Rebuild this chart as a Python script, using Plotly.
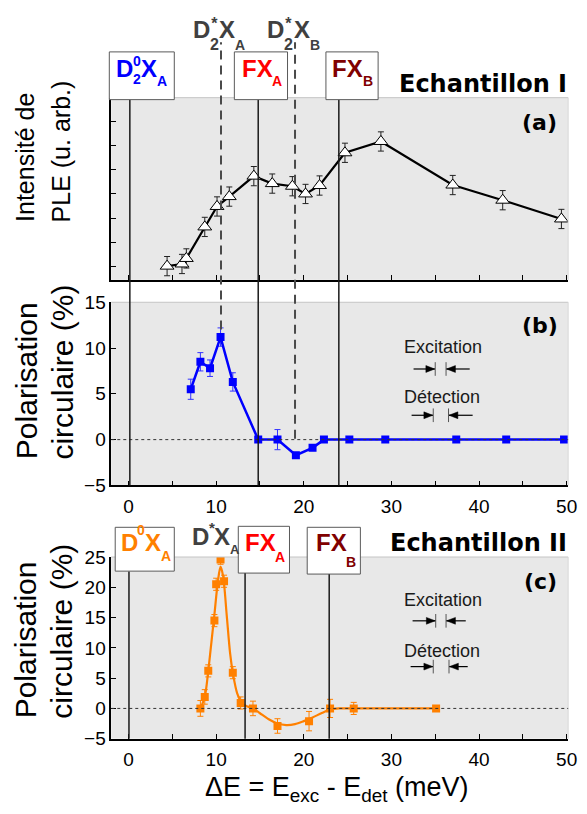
import plotly.graph_objects as go

W, H = 587, 814

# ---------------- data ----------------
ple_x = [4.4, 6.1, 6.6, 8.7, 10.1, 11.5, 14.3, 16.4, 18.7, 20.2, 21.8, 24.7, 28.8, 37.0, 42.7, 49.4]
ple_y = [1.0, 1.09, 1.32, 2.63, 3.48, 3.89, 4.74, 4.43, 4.32, 4.0, 4.35, 5.71, 6.18, 4.37, 3.74, 2.96]
ple_err = [0.4] * 16

polI_x = [7.1, 8.2, 9.3, 10.5, 11.9, 14.8, 17.0, 19.1, 21.0, 22.3, 25.2, 29.3, 37.4, 43.1, 49.7]
polI_y = [5.5, 8.5, 7.8, 11.2, 6.3, 0.0, 0.0, -1.7, -0.9, 0.0, 0.0, 0.0, 0.0, 0.0, 0.0]
polI_err = [1.1, 1.0, 0.9, 1.0, 1.0, 0.0, 1.1, 0.3, 0.3, 0.0, 0.0, 0.0, 0.0, 0.0, 0.0]

polII_x = [8.2, 8.7, 9.1, 9.8, 10.0, 10.5, 10.9, 11.9, 12.8, 14.2, 17.0, 20.6, 23.0, 25.7, 35.1]
polII_y = [0.0, 1.9, 6.2, 14.5, 20.5, 24.6, 21.0, 5.9, 0.9, 0.0, -2.9, -2.1, 0.0, 0.0, 0.0]
polII_err = [1.3, 1.2, 1.0, 1.0, 1.0, 0.8, 1.0, 1.0, 1.0, 1.2, 1.2, 1.6, 1.5, 1.0, 0.4]

fit_x = [8.2, 8.7, 9.1, 9.5, 9.8, 10.2, 10.5, 10.8, 11.2, 11.6, 11.9, 12.4, 13.0, 13.6, 14.2, 15.0,
         16.0, 17.0, 18.0, 19.0, 20.0, 21.0, 22.0, 23.0, 24.0, 25.7, 35.1]
fit_y = [0.0, 1.9, 6.2, 11.5, 15.5, 21.0, 23.4, 21.8, 15.5, 9.0, 5.9, 2.5, 0.8, 0.3, 0.0, -0.8,
         -1.8, -2.5, -2.75, -2.6, -2.1, -1.5, -0.8, -0.2, 0.0, 0.0, 0.0]

x_major = [0, 10, 20, 30, 40, 50]
x_minor = [5, 15, 25, 35, 45]
yb_ticks = [-5, 0, 5, 10, 15]
yc_ticks = [-5, 0, 5, 10, 15, 20, 25]
ya_ticks = [1, 2, 3, 4, 5, 6, 7]

# reference energies (meV)
D0_I, FXA_I, FXB_I, DSA_I, DSB_I = 0.15, 14.8, 24.0, 10.55, 19.0
D0_II, FXA_II, FXB_II = 0.05, 13.3, 22.9

# ---------------- helpers ----------------
def px(x):
    return x / W

def py(y):
    return 1 - y / H

XR = [-1.97, 50.17]
XDOM = [px(113), px(577)]

BG = "#e8e8e8"
FONT = "Liberation Sans, Arial, sans-serif"
BOLDW = "DejaVu Sans, Liberation Sans, Arial"

fig = go.Figure()

# Panel (a)
fig.add_trace(go.Scatter(
    x=ple_x, y=ple_y, mode="lines+markers", xaxis="x", yaxis="y",
    line=dict(color="black", width=2.2),
    marker=dict(symbol="triangle-up", size=12, color="white", line=dict(color="black", width=1)),
    error_y=dict(type="data", array=ple_err, color="#222", thickness=1, width=3),
    showlegend=False))

# Panel (b)
fig.add_trace(go.Scatter(
    x=polI_x, y=polI_y, mode="lines+markers", xaxis="x2", yaxis="y2",
    line=dict(color="#0000ff", width=2.5),
    marker=dict(symbol="square", size=8, color="#0000ff"),
    error_y=dict(type="data", array=polI_err, color="#3333ff", thickness=1, width=3),
    showlegend=False))

# Panel (c)
fig.add_trace(go.Scatter(
    x=fit_x, y=fit_y, mode="lines", xaxis="x3", yaxis="y3",
    line=dict(color="#ff8000", width=2.2, shape="spline", smoothing=0.8),
    showlegend=False, hoverinfo="skip"))
fig.add_trace(go.Scatter(
    x=polII_x, y=polII_y, mode="markers", xaxis="x3", yaxis="y3",
    marker=dict(symbol="square", size=8, color="#ff8000"),
    error_y=dict(type="data", array=polII_err, color="#ff8000", thickness=1, width=3),
    showlegend=False))

axcommon = dict(showline=True, linecolor="black", linewidth=1.5, ticks="inside",
                ticklen=5, tickcolor="black", showgrid=False, zeroline=False,
                tickfont=dict(family=FONT, size=19, color="black"))
xminor = dict(tickvals=x_minor, ticks="inside", ticklen=5, tickcolor="black", showgrid=False)

fig.update_layout(
    width=W, height=H, margin=dict(l=0, r=0, t=0, b=0),
    paper_bgcolor="white", plot_bgcolor=BG,
    xaxis=dict(domain=XDOM, range=XR, anchor="y", tickvals=x_major, minor=xminor,
               showticklabels=False, **axcommon),
    yaxis=dict(domain=[py(277), py(90)], range=[0.43, 8.0], anchor="x", tickvals=ya_ticks,
               showticklabels=False, **axcommon),
    xaxis2=dict(domain=XDOM, range=XR, anchor="y2", tickvals=x_major, minor=xminor,
                ticklabelstandoff=3, **axcommon),
    yaxis2=dict(domain=[py(488), py(300)], range=[-5, 15], anchor="x2", tickvals=yb_ticks, **axcommon),
    xaxis3=dict(domain=XDOM, range=XR, anchor="y3", tickvals=x_major, minor=xminor,
                ticklabelstandoff=3, **axcommon),
    yaxis3=dict(domain=[py(748), py(561.5)], range=[-5, 25], anchor="x3", tickvals=yc_ticks, **axcommon),
)

shapes = []
annots = []

# light top/right borders of panels
for top, bot in [(90, 277), (300, 488), (561.5, 748)]:
    shapes.append(dict(type="line", xref="paper", yref="paper", x0=px(113), x1=px(577), y0=py(top), y1=py(top),
                       line=dict(color="#c4c4c4", width=1)))
    shapes.append(dict(type="line", xref="paper", yref="paper", x0=px(577), x1=px(577), y0=py(top), y1=py(bot),
                       line=dict(color="#d8d8d8", width=1)))

# dotted zero lines
for yr in ["y2", "y3"]:
    shapes.append(dict(type="line", xref="paper", yref=yr, x0=px(113), x1=px(577), y0=0, y1=0,
                       line=dict(color="#333", width=1, dash="dot")))

def vline(xv, ytop, ybot, dash=None, color="#1a1a1a", width=1.5):
    ln = dict(color=color, width=width)
    if dash:
        ln["dash"] = dash
    shapes.append(dict(type="line", xref="x", yref="paper", x0=xv, x1=xv, y0=py(ybot), y1=py(ytop), line=ln))

vline(D0_I, 92, 488)
vline(FXA_I, 92, 488)
vline(FXB_I, 92, 488)
vline(DSA_I, 33, 328, dash="9px,6px", color="#4a4a4a", width=2)
vline(DSB_I, 33, 440, dash="9px,6px", color="#4a4a4a", width=2)
vline(D0_II, 576, 748)
vline(FXA_II, 578, 748)
vline(FXB_II, 579, 748)

def box(x0, x1, y0, y1):
    shapes.append(dict(type="rect", xref="paper", yref="paper", x0=px(x0), x1=px(x1), y0=py(y1), y1=py(y0),
                       fillcolor="white", line=dict(color="#5a5a5a", width=1)))

box(111, 177, 43, 92)
box(238, 292, 43, 92)
box(331, 384, 43, 92)
box(117, 177, 531, 576)
box(242, 294, 530, 578)
box(312, 366, 531, 579)

def txt(x, y, s, size, color="black", bold=True, anchor="left", family=FONT, yanchor="middle"):
    t = "<b>%s</b>" % s if bold else s
    annots.append(dict(xref="paper", yref="paper", x=px(x), y=py(y), text=t, showarrow=False,
                       xanchor=anchor, yanchor=yanchor, borderpad=0,
                       font=dict(family=family, size=size, color=color)))

BLUE, RED, DRED, ORNG, GRAY = "#0000ff", "#ff0000", "#800000", "#ff8000", "#404040"

# Panel (a) labels in boxes  (D, stacked sup/sub, X, sub)
txt(116.5, 60, "D", 24, BLUE)
txt(133.8, 62, "0<br>2", 14, BLUE)
txt(142, 60, "X", 24, BLUE)
txt(158.2, 73, "A", 14, BLUE)

txt(244.5, 60, "FX", 24, RED)
txt(275.5, 73, "A", 14, RED)
txt(336.5, 60, "FX", 24, DRED)
txt(367.5, 73, "B", 14, DRED)

# dashed labels above
for xd, sub in ((194.5, "A"), (270.5, "B")):
    txt(xd, 20.5, "D", 24, GRAY)
    txt(xd + 17.4, 25, "*<br>2", 16, GRAY)
    txt(xd + 27, 20.5, "X", 24, GRAY)
    txt(xd + 43.2, 35.5, sub, 14, GRAY)

txt(577, 75.5, "Echantillon I", 24, "black", anchor="right", family=BOLDW)
txt(567, 115, "(a)", 22, "black", anchor="right", family=BOLDW)
txt(568, 324, "(b)", 22, "black", anchor="right", family=BOLDW)
txt(567, 587, "(c)", 22, "black", anchor="right", family=BOLDW)

# Panel (c) labels
txt(121.5, 546.5, "D", 24, ORNG)
txt(138.5, 533.5, "0", 14, ORNG)
txt(146.5, 546.5, "X", 24, ORNG)
txt(162.5, 560, "A", 14, ORNG)

txt(247.5, 546.5, "FX", 24, RED)
txt(278.5, 561.5, "A", 14, RED)
txt(319.5, 547, "FX", 24, DRED)
txt(350.5, 566.5, "B", 14, DRED)

txt(193.5, 540, "D", 24, GRAY)
txt(210.8, 531.3, "*", 15, GRAY)
txt(216.6, 540, "X", 24, GRAY)
txt(232.6, 553.5, "A", 13, GRAY)

txt(577, 547.5, "Echantillon II", 24, "black", anchor="right", family=BOLDW)

# Excitation / Detection width markers (arrows drawn as shapes)
def harrow(xt, xh, y):
    shapes.append(dict(type="line", xref="paper", yref="paper", x0=px(xt), x1=px(xh), y0=py(y), y1=py(y),
                       line=dict(color="black", width=1.2)))
    d = 1 if xh > xt else -1
    L, hw = 9, 3.5
    path = "M %f,%f L %f,%f L %f,%f Z" % (px(xh), py(y), px(xh - d * L), py(y - hw), px(xh - d * L), py(y + hw))
    shapes.append(dict(type="path", xref="paper", yref="paper", path=path,
                       fillcolor="black", line=dict(color="black", width=0.5)))

def widths(ytext_e, yarr_e, ytext_d, yarr_d, ex, dt):
    txt(450, ytext_e, "Excitation", 18, "#1a1a1a", bold=False, anchor="center")
    txt(449, ytext_d, "Détection", 18, "#1a1a1a", bold=False, anchor="center")
    for yarr, (t1, b1, b2, t2) in [(yarr_e, ex), (yarr_d, dt)]:
        for bx in (b1, b2):
            shapes.append(dict(type="line", xref="paper", yref="paper", x0=px(bx), x1=px(bx),
                               y0=py(yarr + 7), y1=py(yarr - 7), line=dict(color="#555", width=1)))
        harrow(t1, b1 - 0.5, yarr)
        harrow(t2, b2 + 0.5, yarr)

widths(346, 368.5, 397.5, 416, (420, 442, 453, 477), (418, 440, 455.5, 480))
widths(606, 627, 657.5, 674, (419, 442.5, 453, 473), (417, 440, 456, 475))

# axis titles (rotated)
def vtitle(xc, ybot, s, size):
    annots.append(dict(xref="paper", yref="paper", x=px(xc), y=py(ybot), text=s, showarrow=False,
                       textangle=-90, xanchor="center", yanchor="bottom", borderpad=0,
                       font=dict(family=FONT, size=size, color="black")))

vtitle(25.5, 219, "Intensité de", 25)
vtitle(62, 219, "PLE (u. arb.)", 25)
vtitle(27, 462, "Polarisation", 30)
vtitle(64, 463, "circulaire (%)", 30)
vtitle(26, 728, "Polarisation", 30)
vtitle(63, 729, "circulaire (%)", 30)

annots.append(dict(xref="paper", yref="paper", x=px(342), y=py(800), showarrow=False,
                   text="ΔE = E<sub>exc</sub> - E<sub>det</sub> (meV)", xanchor="center", yanchor="middle",
                   borderpad=0, font=dict(family=FONT, size=27, color="black")))

fig.update_layout(shapes=shapes, annotations=annots)
fig.write_html("out.html")
